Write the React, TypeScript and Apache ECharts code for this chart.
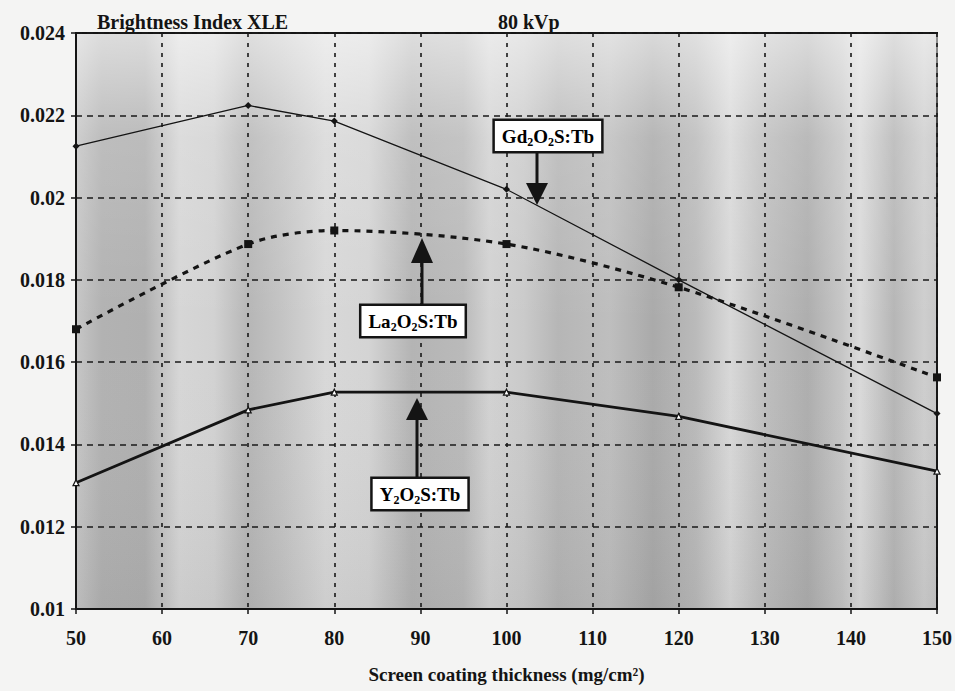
import { useEffect, useRef } from 'react';
import * as echarts from 'echarts';

// Screen coating thickness (mg/cm2)
const thickness = [50, 70, 80, 100, 120, 150];
// Brightness index XLE at 80 kVp
const gdValues = [0.02125, 0.02224, 0.02186, 0.0202, 0.018, 0.01475];
const laValues = [0.0168, 0.01887, 0.0192, 0.01887, 0.01782, 0.01563];
const yValues = [0.01307, 0.01484, 0.01527, 0.01527, 0.01468, 0.01335];

const seriesNames = ['Gd2O2S:Tb', 'La2O2S:Tb', 'Y2O2S:Tb'];
const xRange = [50, 150, 10];
const yRange = [0.01, 0.024, 0.002];

const FONT = '"Liberation Serif", "Times New Roman", serif';
const INK = '#141414';

function pairs(vals: number[]) {
  return thickness.map((x, i) => [x, vals[i]]);
}

export default function App() {
  const ref = useRef<HTMLDivElement>(null);

  useEffect(() => {
    if (!ref.current) return;
    const chart = echarts.init(ref.current, undefined, { renderer: 'svg' });

    const bg = new echarts.graphic.LinearGradient(0, 0, 1, 0, [
      { offset: 0, color: '#c6c6c6' },
      { offset: 0.03, color: '#b2b2b2' },
      { offset: 0.08, color: '#b0b0b0' },
      { offset: 0.12, color: '#d6d6d6' },
      { offset: 0.16, color: '#d2d2d2' },
      { offset: 0.2, color: '#b6b6b6' },
      { offset: 0.24, color: '#c4c4c4' },
      { offset: 0.29, color: '#d8d8d8' },
      { offset: 0.34, color: '#d4d4d4' },
      { offset: 0.39, color: '#b4b4b4' },
      { offset: 0.45, color: '#bababa' },
      { offset: 0.48, color: '#d2d2d2' },
      { offset: 0.52, color: '#cacaca' },
      { offset: 0.56, color: '#b6b6b6' },
      { offset: 0.62, color: '#bebebe' },
      { offset: 0.67, color: '#aaaaaa' },
      { offset: 0.72, color: '#bababa' },
      { offset: 0.76, color: '#d8d8d8' },
      { offset: 0.8, color: '#bebebe' },
      { offset: 0.85, color: '#aeaeae' },
      { offset: 0.89, color: '#c6c6c6' },
      { offset: 0.91, color: '#dadada' },
      { offset: 0.95, color: '#b6b6b6' },
      { offset: 0.985, color: '#cecece' },
      { offset: 1, color: '#c6c6c6' },
    ]);

    const overlay = new echarts.graphic.LinearGradient(0, 0, 0, 1, [
      { offset: 0, color: 'rgba(255,255,255,0.55)' },
      { offset: 0.18, color: 'rgba(255,255,255,0.15)' },
      { offset: 0.5, color: 'rgba(255,255,255,0)' },
      { offset: 1, color: 'rgba(0,0,0,0.05)' },
    ]);

    const rich = {
      b: { fontFamily: FONT, fontWeight: 'bold', fontSize: 19, color: INK, lineHeight: 23, verticalAlign: 'middle' },
      s: { fontFamily: FONT, fontWeight: 'bold', fontSize: 12, color: INK, lineHeight: 12, verticalAlign: 'bottom' },
    };
    const labelText = (el: string) => `{b|${el}}{s|2}{b|O}{s|2}{b|S:Tb}`;

    const box = (text: string, cx: number, cy: number) => ({
      type: 'text',
      z: 20,
      style: {
        text,
        rich,
        x: cx,
        y: cy,
        align: 'center',
        verticalAlign: 'middle',
        backgroundColor: '#ffffff',
        borderColor: INK,
        borderWidth: 2.5,
        padding: [4, 7, 3, 7],
      },
    });
    const arrow = (x: number, y0: number, tipY: number, headLen: number) => {
      const dir = tipY > y0 ? 1 : -1;
      const baseY = tipY - dir * headLen;
      return [
        {
          type: 'line',
          z: 19,
          shape: { x1: x, y1: y0, x2: x, y2: baseY },
          style: { stroke: INK, lineWidth: 3 },
        },
        {
          type: 'polygon',
          z: 19,
          shape: { points: [[x - 11, baseY], [x + 11, baseY], [x, tipY]] },
          style: { fill: INK },
        },
      ];
    };

    const titleStyle = { fontFamily: FONT, fontWeight: 'bold', fontSize: 20, color: INK };

    const option = {
      animation: false,
      backgroundColor: '#f4f4f3',
      title: [
        { text: 'Brightness Index XLE', left: 92, top: 7, textStyle: titleStyle },
        { text: '80 kVp', left: 493, top: 7, textStyle: titleStyle },
      ],
      grid: {
        left: 76,
        right: 16,
        top: 33,
        bottom: 82,
        show: true,
        backgroundColor: bg,
        borderColor: INK,
        borderWidth: 2,
        z: 0,
      },
      xAxis: {
        type: 'value',
        min: xRange[0],
        max: xRange[1],
        interval: xRange[2],
        z: 3,
        name: 'Screen coating thickness (mg/cm²)',
        nameLocation: 'middle',
        nameGap: 56,
        nameTextStyle: { fontFamily: FONT, fontWeight: 'bold', fontSize: 19, color: INK },
        axisLine: { show: true, lineStyle: { color: INK, width: 2 } },
        axisTick: { show: true, length: 5, lineStyle: { color: INK, width: 1.5 } },
        axisLabel: { margin: 19, fontFamily: FONT, fontWeight: 'bold', fontSize: 20, color: INK },
        splitLine: { show: true, lineStyle: { color: '#1a1a1a', width: 1.6, type: [4, 6] } },
      },
      yAxis: {
        type: 'value',
        min: yRange[0],
        max: yRange[1],
        interval: yRange[2],
        z: 3,
        axisLine: { show: true, lineStyle: { color: INK, width: 2 } },
        axisTick: { show: true, length: 5, lineStyle: { color: INK, width: 1.5 } },
        axisLabel: {
          margin: 11,
          fontFamily: FONT,
          fontWeight: 'bold',
          fontSize: 20,
          color: INK,
          formatter: (v: number) => String(Number(v.toFixed(3))),
        },
        splitLine: { show: true, lineStyle: { color: '#1a1a1a', width: 1.6, type: [6, 5] } },
      },
      series: [
        {
          name: seriesNames[0],
          type: 'line',
          z: 5,
          data: pairs(gdValues),
          symbol: 'diamond',
          symbolSize: 7,
          itemStyle: { color: INK },
          lineStyle: { color: INK, width: 1.3 },
        },
        {
          name: seriesNames[1],
          type: 'line',
          z: 5,
          smooth: 0.3,
          data: pairs(laValues),
          symbol: 'rect',
          symbolSize: 8,
          itemStyle: { color: INK },
          lineStyle: { color: INK, width: 3.2, type: [6, 6] },
        },
        {
          name: seriesNames[2],
          type: 'line',
          z: 5,
          data: pairs(yValues),
          symbol: 'triangle',
          symbolSize: 6,
          itemStyle: { color: '#ffffff', borderColor: INK, borderWidth: 1.2 },
          lineStyle: { color: INK, width: 2.8 },
        },
      ],
      graphic: [
        {
          type: 'rect',
          z: 1,
          silent: true,
          shape: { x: 77, y: 34, width: 861, height: 574 },
          style: { fill: overlay },
        },
        ...arrow(537, 153, 205, 22),
        box(labelText('Gd'), 548, 136),
        ...arrow(422, 304, 238, 25),
        box(labelText('La'), 413, 321),
        ...arrow(417, 477, 398, 22),
        box(labelText('Y'), 420, 494),
      ],
    };

    chart.setOption(option as any);
    return () => chart.dispose();
  }, []);

  return <div ref={ref} style={{ position: 'absolute', left: 0, top: 0, width: 955, height: 691 }} />;
}
